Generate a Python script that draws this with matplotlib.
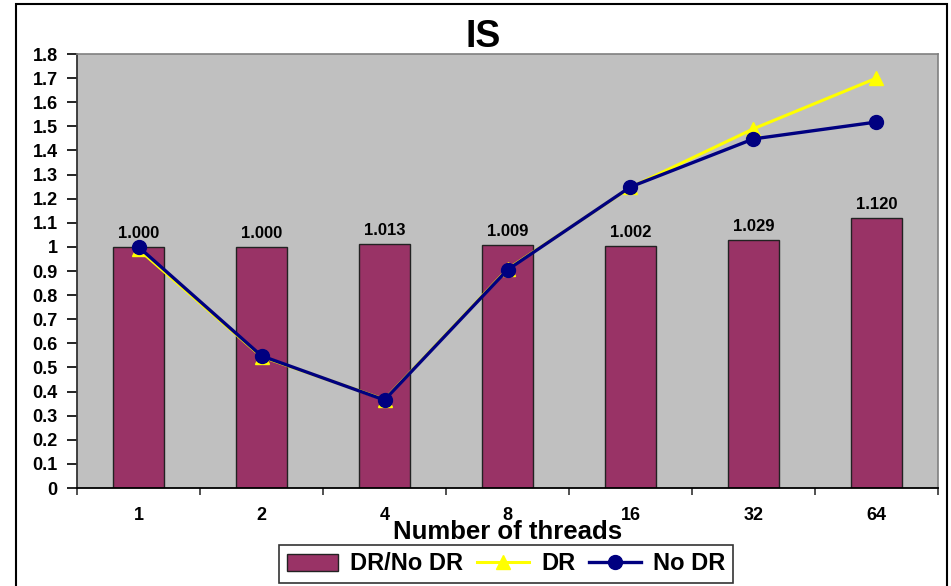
import numpy as np
import matplotlib.pyplot as plt
from matplotlib.patches import Rectangle

plt.rcParams['font.family'] = ['Liberation Sans', 'DejaVu Sans']
plt.rcParams['font.weight'] = 'bold'

threads = ['1', '2', '4', '8', '16', '32', '64']
ratio = [1.000, 1.000, 1.013, 1.009, 1.002, 1.029, 1.120]
dr = [0.99, 0.545, 0.367, 0.908, 1.247, 1.49, 1.70]
no_dr = [1.0, 0.548, 0.365, 0.905, 1.249, 1.448, 1.518]

fig = plt.figure(figsize=(9.51, 5.86), dpi=100)
ax = fig.add_axes([0.081, 0.1672, 0.9053, 0.7406])
ax.set_facecolor('#C0C0C0')

x = np.arange(len(threads))
bars = ax.bar(x, ratio, width=0.41, color='#993366', edgecolor='#222222',
              linewidth=1.0, label='DR/No DR', zorder=2)
for xi, v in zip(x, ratio):
    ax.text(xi, v + 0.025, f'{v:.3f}', ha='center', va='bottom',
            fontsize=12, fontweight='bold', zorder=5)

l_dr, = ax.plot(x, dr, color='#FFFF00', lw=2.2, marker='^', ms=10,
                label='DR', zorder=3)
l_no, = ax.plot(x, no_dr, color='#000080', lw=2.4, marker='o', ms=10,
                label='No DR', zorder=4)

ax.set_xlim(-0.5, len(threads) - 0.5)
ax.set_ylim(0, 1.8)
ax.set_yticks(np.arange(0, 1.81, 0.1))
ax.set_yticklabels(['0'] + [f'{v:.1f}' for v in np.arange(0.1, 0.95, 0.1)] +
                   ['1'] + [f'{v:.1f}' for v in np.arange(1.1, 1.85, 0.1)])
ax.tick_params(axis='y', direction='out', length=7, width=1.2,
               labelsize=13, pad=7, colors='black')

# category labels centred, tick marks on the boundaries
ax.set_xticks(x)
ax.set_xticklabels(threads)
ax.set_xticks(np.arange(-0.5, len(threads)), minor=True)
ax.tick_params(axis='x', which='major', length=0, labelsize=13, pad=14)
ax.tick_params(axis='x', which='minor', direction='out', length=5,
               width=1.2, color='#333333')
for lbl in ax.get_xticklabels() + ax.get_yticklabels():
    lbl.set_fontweight('bold')

for side in ['top', 'right']:
    ax.spines[side].set_color('#808080')
    ax.spines[side].set_linewidth(1.2)
ax.spines['left'].set_color('#333333')
ax.spines['left'].set_linewidth(1.3)
ax.spines['bottom'].set_color('black')
ax.spines['bottom'].set_linewidth(1.3)

ax.set_xlabel('Number of threads', fontsize=18.5, fontweight='bold',
              labelpad=-3)
fig.text(483 / 951, 1 - 37 / 586, 'IS', ha='center', va='center',
         fontsize=27, fontweight='bold')

leg = fig.legend([bars, l_dr, l_no], ['DR/No DR', 'DR', 'No DR'],
                 loc='center', bbox_to_anchor=(506 / 951, 1 - 564 / 586),
                 ncol=3, fontsize=17, frameon=True, fancybox=False,
                 edgecolor='black', handlelength=2.2, handletextpad=0.5,
                 columnspacing=0.6, borderpad=0.3, borderaxespad=0)
leg.get_frame().set_linewidth(1.2)
for t in leg.get_texts():
    t.set_fontweight('bold')

# outer chart border
fig.patches.append(Rectangle((16 / 951, -0.05), (947 - 16) / 951,
                             1.05 - 4 / 586, transform=fig.transFigure,
                             fill=False, edgecolor='black', lw=1.5))

fig.savefig('out.png', dpi=100)
